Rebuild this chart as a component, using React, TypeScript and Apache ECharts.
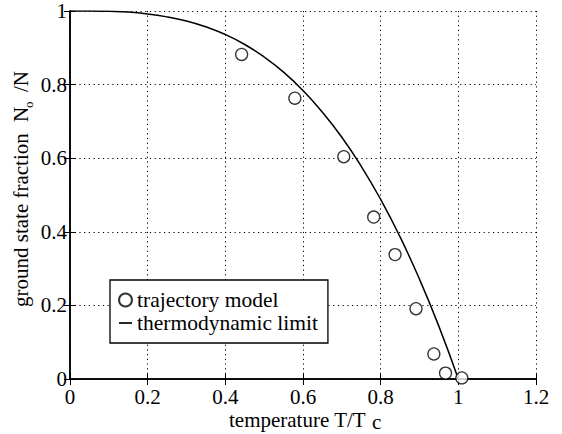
import React, { useEffect, useRef } from "react";
import * as echarts from "echarts";

const xTicks = [0, 0.2, 0.4, 0.6, 0.8, 1, 1.2];
const yTicks = [0, 0.2, 0.4, 0.6, 0.8, 1];

const trajectoryT = [0.442, 0.579, 0.705, 0.782, 0.837, 0.891, 0.937, 0.967, 1.009];
const trajectoryN = [0.882, 0.763, 0.604, 0.44, 0.338, 0.191, 0.068, 0.016, 0.003];

const limitT = [0, 0.05, 0.1, 0.15, 0.2, 0.25, 0.3, 0.35, 0.4, 0.45, 0.5, 0.55, 0.6, 0.65, 0.7, 0.75, 0.8, 0.85, 0.9, 0.95, 1.0];
const limitN = [1, 1, 0.999, 0.997, 0.992, 0.984, 0.973, 0.957, 0.936, 0.909, 0.875, 0.834, 0.784, 0.725, 0.657, 0.578, 0.488, 0.386, 0.271, 0.143, 0];

const FONT = "Liberation Serif, Times New Roman, serif";

export default function App() {
  const ref = useRef<HTMLDivElement>(null);
  useEffect(() => {
    if (!ref.current) return;
    const chart = echarts.init(ref.current, null, { renderer: "svg" });
    const axisLine = { show: true, lineStyle: { color: "#000", width: 1.5 } };
    const tick = { show: true, inside: true, length: 6, lineStyle: { color: "#000", width: 1 } };
    const label = { color: "#000", fontFamily: FONT, fontSize: 21, lineHeight: 18 };
    chart.setOption({
      animation: false,
      backgroundColor: "#fff",
      textStyle: { fontFamily: FONT, color: "#000" },
      grid: { left: 70, top: 11, right: 26, bottom: 55, containLabel: false },
      xAxis: [
        {
          type: "value", min: xTicks[0], max: xTicks[xTicks.length - 1], interval: 0.2,
          axisLine, axisTick: tick,
          axisLabel: { ...label, margin: 9 },
          splitLine: { show: true, lineStyle: { color: "#000", width: 1, type: [1.2, 3.5] } },
        },
        {
          type: "value", position: "top", min: 0, max: 1.2, interval: 0.2,
          axisLine, axisTick: tick, axisLabel: { show: false }, splitLine: { show: false },
        },
      ],
      yAxis: [
        {
          type: "value", min: yTicks[0], max: yTicks[yTicks.length - 1], interval: 0.2,
          axisLine, axisTick: tick,
          axisLabel: { ...label, margin: 3 },
          splitLine: { show: true, lineStyle: { color: "#000", width: 1, type: [1.2, 3.5] } },
        },
        {
          type: "value", position: "right", min: 0, max: 1, interval: 0.2,
          axisLine, axisTick: tick, axisLabel: { show: false }, splitLine: { show: false },
        },
      ],
      legend: {
        left: 110, top: 280, orient: "vertical",
        backgroundColor: "#fff", borderColor: "#000", borderWidth: 1.3, borderRadius: 0,
        padding: [9, 10, 9, 8], itemGap: 1, itemWidth: 13, itemHeight: 13,
        textStyle: { color: "#000", fontFamily: FONT, fontSize: 21.5, lineHeight: 21 },
        data: [
          { name: "trajectory model", icon: "circle" },
          { name: "thermodynamic limit", icon: "path://M0,0h10v1.3h-10z" },
        ],
      },
      series: [
        {
          name: "thermodynamic limit", type: "line", smooth: true, symbol: "none",
          lineStyle: { color: "#000", width: 1.5 }, itemStyle: { color: "#000" },
          data: limitT.map((t, i) => [t, limitN[i]]), z: 2,
        },
        {
          name: "trajectory model", type: "scatter", symbol: "circle", symbolSize: 12,
          itemStyle: { color: "#fff", borderColor: "#000", borderWidth: 1.3 },
          data: trajectoryT.map((t, i) => [t, trajectoryN[i]]), z: 3,
        },
      ],
      graphic: [
        { type: "text", left: 229, top: 409, style: { text: "temperature T/T", fontFamily: FONT, fontSize: 21, lineHeight: 19, fill: "#000" } },
        { type: "text", left: 372, top: 411, style: { text: "c", fontFamily: FONT, fontSize: 21, lineHeight: 19, fill: "#000" } },
        {
          type: "group", x: 21, y: 307, rotation: Math.PI / 2,
          children: [
            { type: "text", x: 0, y: 0, style: { text: "ground state fraction", fontFamily: FONT, fontSize: 21, fill: "#000", verticalAlign: "middle", align: "left" } },
            { type: "text", x: 185, y: 0, style: { text: "N", fontFamily: FONT, fontSize: 21, fill: "#000", verticalAlign: "middle", align: "left" } },
            { type: "text", x: 199, y: 7, style: { text: "o", fontFamily: FONT, fontSize: 13, fill: "#000", verticalAlign: "middle", align: "left" } },
            { type: "text", x: 215, y: 0, style: { text: "/N", fontFamily: FONT, fontSize: 21, fill: "#000", verticalAlign: "middle", align: "left" } },
          ],
        },
      ],
    });
    return () => chart.dispose();
  }, []);
  return <div ref={ref} style={{ position: "fixed", left: 0, top: 0, width: 562, height: 434 }} />;
}
